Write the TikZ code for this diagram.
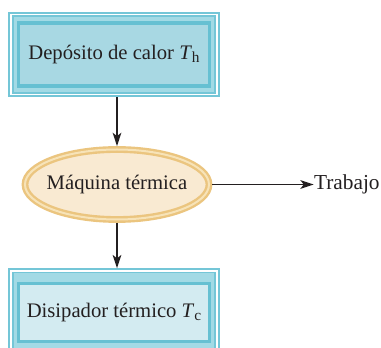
\documentclass[tikz,border=0pt]{standalone}
\usepackage{fontspec}
\setmainfont{Liberation Serif}
\usepackage{tikz}
\usetikzlibrary{arrows.meta,backgrounds,positioning,shapes.geometric}
\definecolor{heatmid}{HTML}{74C6D7}
\definecolor{heatpale}{HTML}{A2DAE5}
\definecolor{heatdark}{HTML}{66C0D2}
\definecolor{hotfill}{HTML}{A8D8E3}
\definecolor{coldfill}{HTML}{D3EBF1}
\definecolor{enginegold}{HTML}{EBC57F}
\definecolor{enginering}{HTML}{F7E3B8}
\definecolor{enginefill}{HTML}{F9EAD2}
\definecolor{inktext}{HTML}{231F20}
\newcommand{\heatsub}[1]{\textit{T}\raisebox{-0.35ex}{\fontsize{11.5pt}{12pt}\selectfont #1}}
\tikzset{%
  heatframe/.style={%
    rectangle,
    fill=heatpale,
    draw=heatmid,
    double=white,
    line width=1.3pt,
    double distance=1.2pt,
    inner sep=0pt,
    outer sep=1.9pt,
    minimum width=154.5pt
  },
  heatbox/.style={%
    rectangle,
    draw=heatdark,
    line width=2.4pt,
    minimum width=143pt,
    inner sep=0pt,
    align=center,
    text=inktext,
    font=\fontsize{15.5pt}{18pt}\selectfont
  },
  enginebox/.style={%
    ellipse,
    draw=enginegold,
    double=enginering,
    line width=1.8pt,
    double distance=1.5pt,
    fill=enginefill,
    minimum width=138pt,
    minimum height=52.5pt,
    inner sep=0pt,
    outer sep=2.55pt,
    text=inktext,
    font=\fontsize{15.5pt}{18pt}\selectfont
  },
  flowarrow/.style={-{Stealth[length=10pt,width=6.5pt,inset=2.5pt]},line width=1.4pt,draw=inktext}
}

\begin{document}
\begin{tikzpicture}[x=0.75pt,y=-0.75pt]
    \useasboundingbox (0,0) rectangle (381,348);
    % reservoirs and engine
    \node[heatframe,minimum height=60pt] (hotframe) at (114,54.5) {};
    \node[heatbox,fill=hotfill,minimum height=47.25pt] (hot) at (114,54.5) {Depósito de calor \heatsub{h}};
    \node[enginebox] (engine) at (117,184.5) {\makebox[0pt]{Máquina térmica}};
    \node[heatframe,minimum height=62.5pt] (coldframe) at (114,312.5) {};
    \node[heatbox,fill=coldfill,minimum height=43.5pt] (cold) at (114,312.5) {Disipador térmico \heatsub{c}};
    \node[right=76pt of engine,inner sep=0pt,text=inktext,font=\fontsize{16pt}{18pt}\selectfont] (work) {Trabajo};

    \draw[flowarrow] (hotframe.south -| engine.north) -- (engine.north);
    \draw[flowarrow] (engine.south) -- (coldframe.north -| engine.south);
    \draw[flowarrow] (engine.east) -- (work.west);
  \end{tikzpicture}
\end{document}
